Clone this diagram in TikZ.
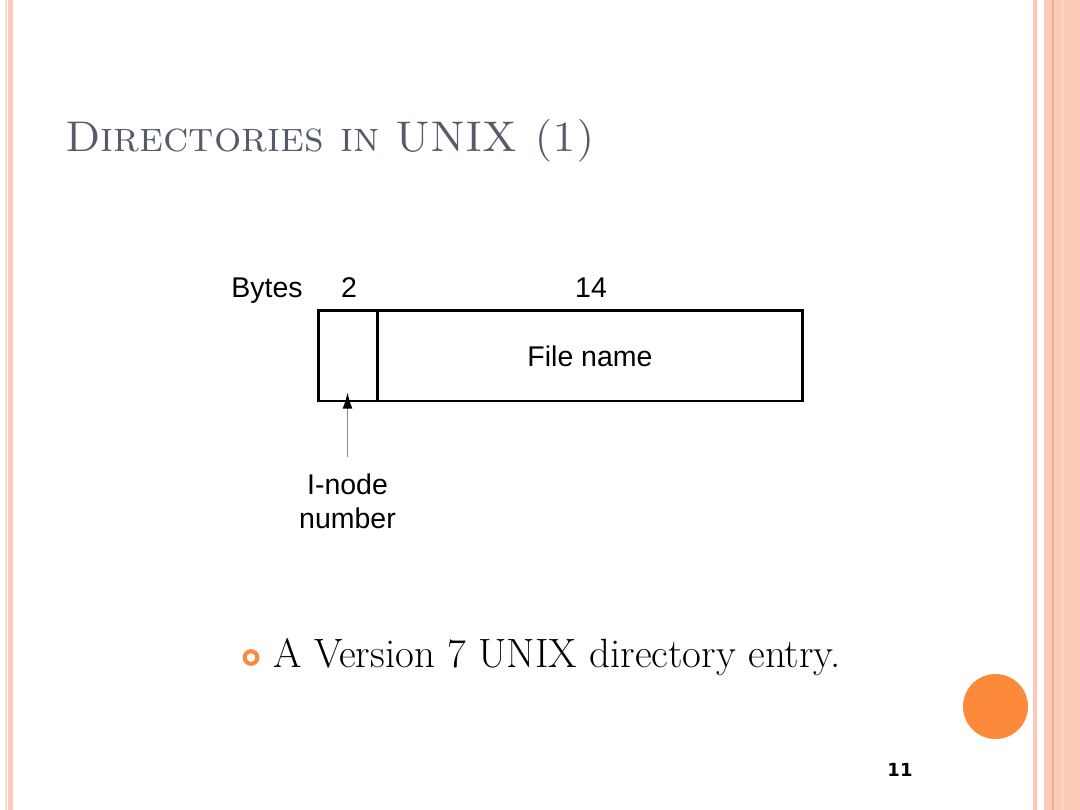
\documentclass[tikz,border=0pt]{standalone}
\usepackage{fontspec}
\usetikzlibrary{arrows.meta}
\newfontfamily\diag{Liberation Sans}
\newfontfamily\pnum{DejaVu Sans}
\definecolor{peach}{RGB}{252,202,184}
\definecolor{peachlt}{RGB}{253,220,206}
\definecolor{peachdk}{RGB}{246,170,140}
\definecolor{titlec}{RGB}{84,92,108}
\definecolor{orng}{RGB}{253,138,58}
\begin{document}
\begin{tikzpicture}[x=0.6667pt,y=-0.6667pt,
  lbl/.style={font=\diag\fontsize{19}{22}\selectfont, inner sep=0pt, anchor=base}]
\useasboundingbox (0,0) rectangle (1080,810);
\fill[white] (0,0) rectangle (1080,810);
% left border
\fill[peachlt] (4.5,0) rectangle (6.5,810);
\fill[peach] (8,0) rectangle (12.5,810);
% right border
\fill[peach] (1032.5,0) rectangle (1037,810);
\fill[peach] (1044,0) rectangle (1080,810);
\fill[peachdk] (1052,0) rectangle (1054,810);
\fill[peachlt!60!peach] (1062,0) rectangle (1064,810);
% title
\node[anchor=base west, inner sep=0pt, text=titlec, font=\fontsize{28.6}{34}\selectfont] (title) at (65,152) {\textsc{Directories in UNIX (1)}};
% diagram
\draw[line width=1.6pt] (318.5,310.5) rectangle (802.5,401);
\draw[line width=1.6pt] (377.5,310.5) -- (377.5,401);
\coordinate (inode) at (347.5,392);
\coordinate (astart) at (347.5,457);
\node[lbl] (bytes) at (267,297) {Bytes};
\node[lbl] (two) at (349,297) {2};
\node[lbl] (fourteen) at (591,297) {14};
\node[lbl] (fname) at (590,366) {File name};
\node[lbl, align=center, anchor=north, font=\diag\fontsize{19}{22.5}\selectfont] (inlabel) at (347.5,474) {I-node\\number};
\draw[-{Latex[length=11pt,width=6.5pt,color=black]}, black!45, line width=1.2pt] (astart) -- (inode);
% bullet
\draw[orng, line width=2.7pt] (251,657.5) circle (6.3);
\node[anchor=base west, inner sep=0pt, font=\fontsize{27.3}{32}\selectfont] (bullet) at (273,667) {A Version 7 UNIX directory entry.};
% orange circle
\fill[orng] (995.5,706.5) circle (32.5);
% page number
\node[anchor=base, inner sep=0pt, font=\pnum\bfseries\fontsize{12}{14}\selectfont] (pg) at (900,776) {11};
\end{tikzpicture}
\end{document}
